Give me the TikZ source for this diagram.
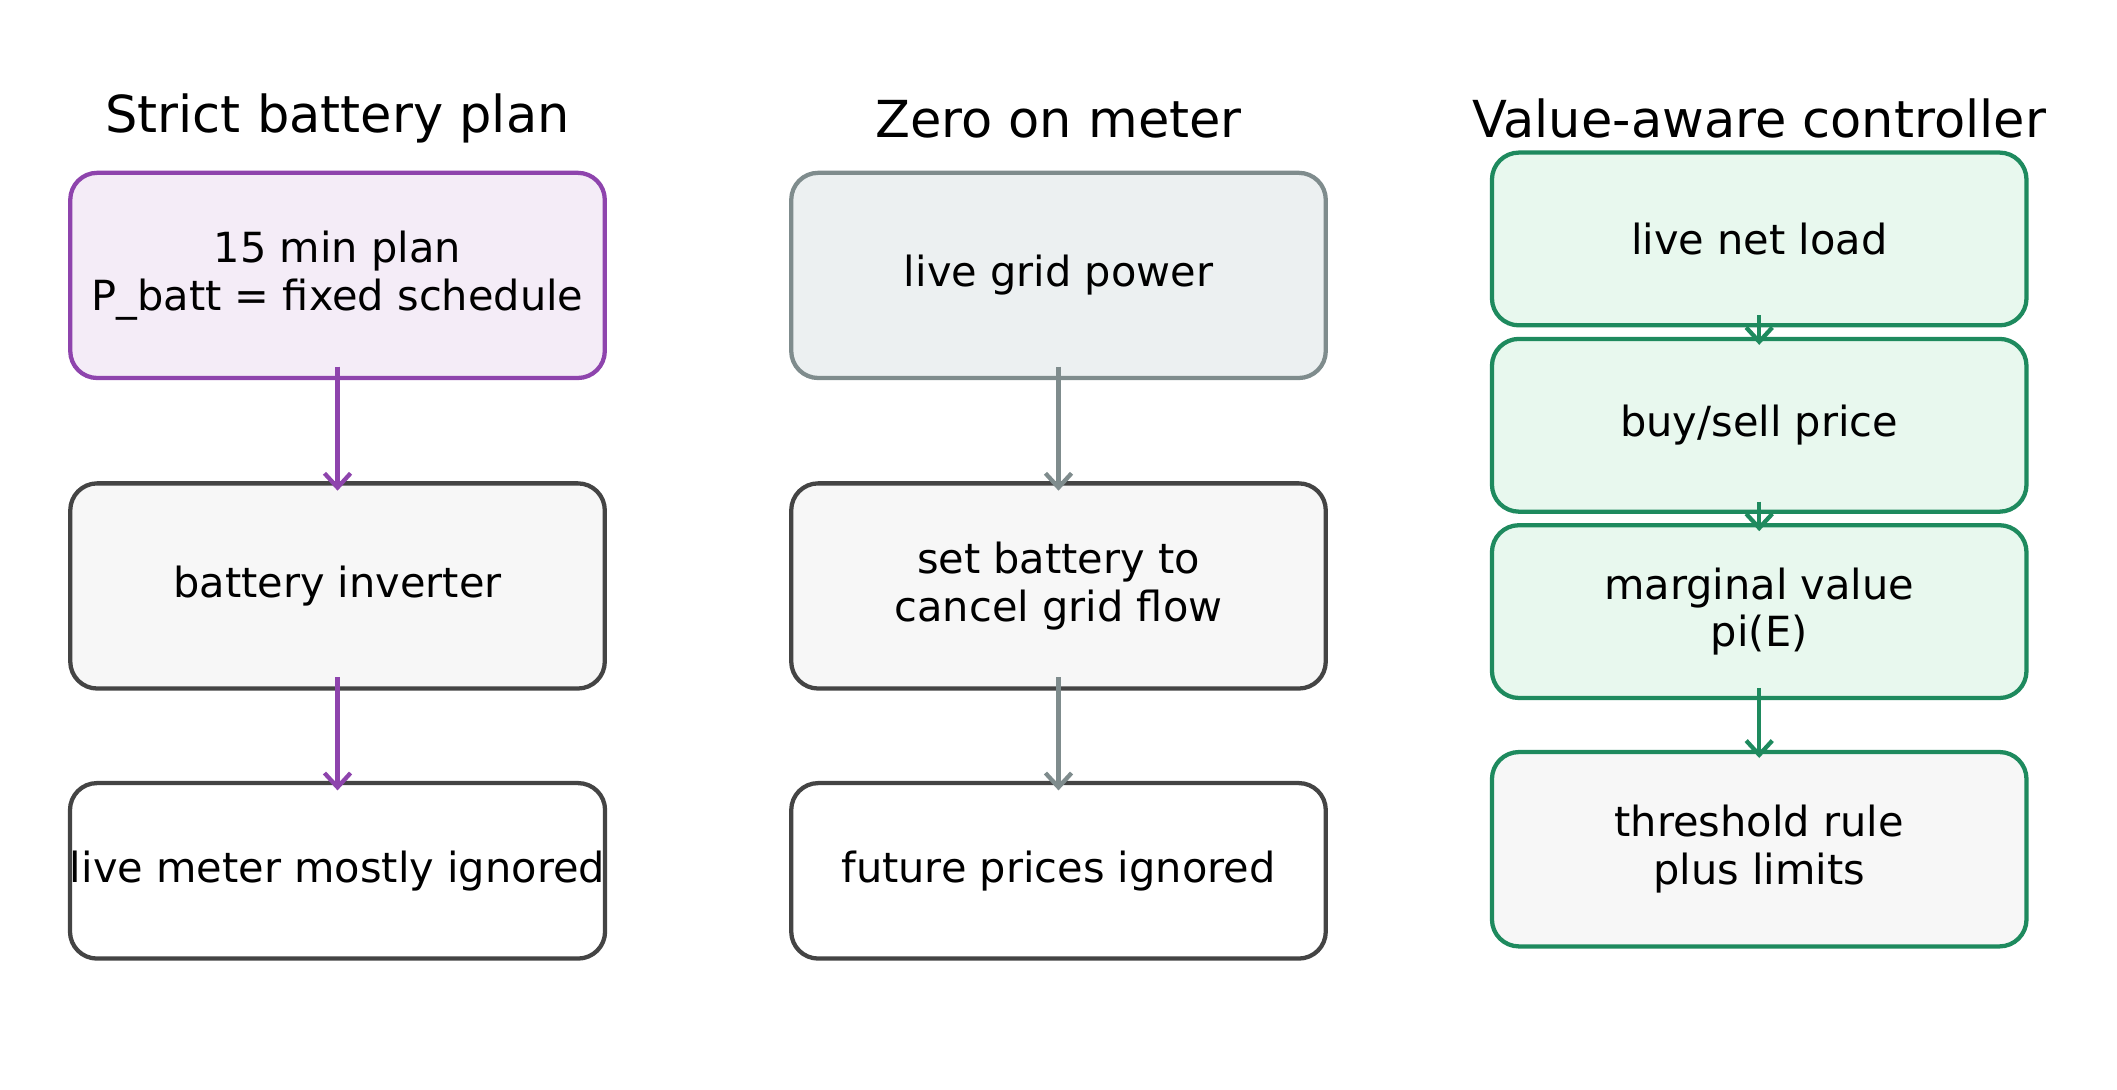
\documentclass[tikz,border=0pt]{standalone}
\usepackage{fontspec}
\setmainfont{DejaVu Sans}
\usetikzlibrary{arrows.meta,calc}
\definecolor{pur}{HTML}{8E44AD}\definecolor{purf}{HTML}{F4ECF7}
\definecolor{gr}{HTML}{7F8C8D}\definecolor{grf}{HTML}{ECF0F1}
\definecolor{dk}{HTML}{444444}\definecolor{dkf}{HTML}{F7F7F7}
\definecolor{gn}{HTML}{1E8A5E}\definecolor{gnf}{HTML}{E8F8EE}
\begin{document}
\begin{tikzpicture}[x=0.02cm,y=-0.02cm,
 box/.style={draw, line width=1.8pt, rounded corners=0.4cm, minimum width=7.92cm, align=center, font=\fontsize{17.5}{20}\selectfont, inner sep=0pt},
 ttl/.style={font=\fontsize{21.5}{24}\selectfont},
 arr/.style={line width=1.8pt, -{Straight Barb[length=6pt,width=11pt]}}]
\useasboundingbox (0,0) rectangle (1568,807);
\node[ttl] (t1) at (250,88) {Strict battery plan};
\node[ttl] (t2) at (784,88) {Zero on meter};
\node[ttl] (t3) at (1303,88) {Value-aware controller};
% col1
\node[box,draw=pur,fill=purf,minimum height=3.04cm] (a1) at (250,204) {15 min plan\\P\_batt = fixed schedule};
\node[box,draw=dk,fill=dkf,minimum height=3.04cm] (a2) at (250,434) {battery inverter};
\node[box,draw=dk,fill=white,minimum height=2.6cm] (a3) at (250,645) {live meter mostly ignored};
\draw[arr,pur] ($(a1.south)+(0,-10)$) -- ($(a2.north)+(0,7)$);
\draw[arr,pur] ($(a2.south)+(0,-10)$) -- ($(a3.north)+(0,7)$);
% col2
\node[box,draw=gr,fill=grf,minimum height=3.04cm] (b1) at (784,204) {live grid power};
\node[box,draw=dk,fill=dkf,minimum height=3.04cm] (b2) at (784,434) {set battery to\\cancel grid flow};
\node[box,draw=dk,fill=white,minimum height=2.6cm] (b3) at (784,645) {future prices ignored};
\draw[arr,gr] ($(b1.south)+(0,-10)$) -- ($(b2.north)+(0,7)$);
\draw[arr,gr] ($(b2.south)+(0,-10)$) -- ($(b3.north)+(0,7)$);
% col3
\node[box,draw=gn,fill=gnf,minimum height=2.56cm] (c1) at (1303,177) {live net load};
\node[box,draw=gn,fill=gnf,minimum height=2.56cm] (c2) at (1303,315) {buy/sell price};
\node[box,draw=gn,fill=gnf,minimum height=2.56cm] (c3) at (1303,453) {marginal value\\pi(E)};
\node[box,draw=gn,fill=dkf,minimum height=2.88cm] (c4) at (1303,629) {threshold rule\\plus limits};
\draw[arr,gn] ($(c1.south)+(0,-9)$) -- ($(c2.north)+(0,6)$);
\draw[arr,gn] ($(c2.south)+(0,-9)$) -- ($(c3.north)+(0,6)$);
\draw[arr,gn] ($(c3.south)+(0,-9)$) -- ($(c4.north)+(0,6)$);
\end{tikzpicture}
\end{document}
